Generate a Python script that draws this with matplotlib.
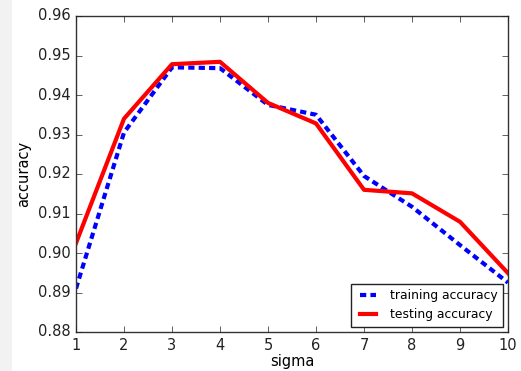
import numpy as np
import matplotlib
matplotlib.use('Agg')
import matplotlib.pyplot as plt
from matplotlib.patches import Rectangle

plt.style.use('classic')

sigma = [1, 2, 3, 4, 5, 6, 7, 8, 9, 10]
train_acc = [0.891, 0.9305, 0.947, 0.9468, 0.9375, 0.935, 0.9195, 0.9117, 0.902, 0.8925]
test_acc = [0.9025, 0.934, 0.9478, 0.9484, 0.938, 0.9328, 0.916, 0.9151, 0.9079, 0.8949]

fig = plt.figure(figsize=(5.21, 3.71), dpi=100, facecolor='white')
# light strip down the left edge
fig.patches.append(Rectangle((0, 0), 12 / 521, 1, transform=fig.transFigure,
                             facecolor='#f2f2f2', edgecolor='none', zorder=-1))
ax = fig.add_axes([76 / 521, 39 / 371, 432 / 521, 316 / 371])

ax.plot(sigma, train_acc, color='blue', linestyle='--', linewidth=3,
        dashes=(4.5, 3.0), label='training accuracy')
ax.plot(sigma, test_acc, color='red', linewidth=3, label='testing accuracy')

ax.set_xlim(1, 10)
ax.set_ylim(0.88, 0.96)
ax.set_xticks(range(1, 11))
ax.set_yticks(np.arange(0.88, 0.961, 0.01))
ax.yaxis.set_major_formatter(plt.FormatStrFormatter('%.2f'))
ax.tick_params(labelsize=10.5, colors='#222222', labelcolor='#222222')
for s in ax.spines.values():
    s.set_color('#333333')

ax.set_xlabel('sigma', fontsize=10.5, labelpad=1)
ax.set_ylabel('accuracy', fontsize=10.5)

leg = ax.legend(loc='lower right', fontsize=8.9, numpoints=2, handlelength=1.9,
                borderaxespad=0.4, handletextpad=0.8, borderpad=0.45)
leg.get_frame().set_edgecolor('#222222')

fig.savefig('out.png', dpi=100, facecolor='white')
